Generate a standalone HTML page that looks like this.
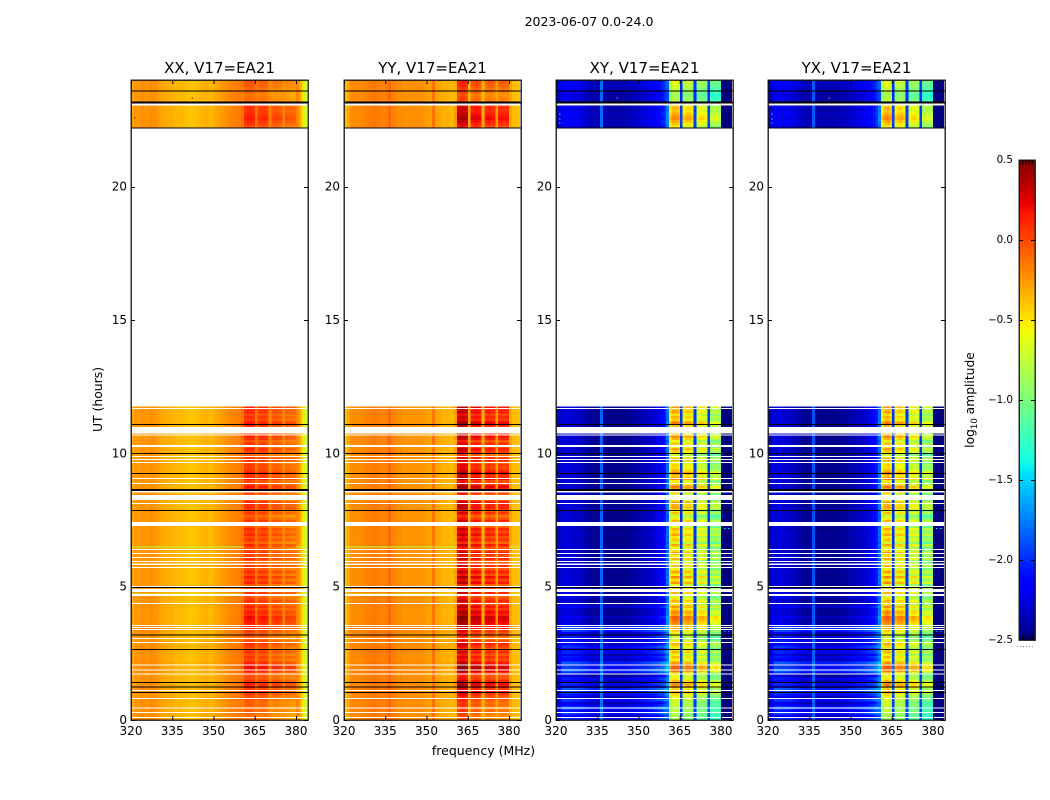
<!DOCTYPE html>
<html>
<head>
<meta charset="utf-8">
<title>2023-06-07 0.0-24.0</title>
<style>
html,body{margin:0;padding:0;background:#fff;}
#chart{display:block;width:1050px;height:800px;}
text{font-family:"DejaVu Sans","Liberation Sans",sans-serif;fill:#000;}
</style>
</head>
<body>
<svg id="chart" xmlns="http://www.w3.org/2000/svg" width="1050" height="800" viewBox="0 0 1050 800">
<text x="589" y="26" font-size="12.5" text-anchor="middle">2023-06-07 0.0-24.0</text>
<text x="483.500" y="755" font-size="12.5" text-anchor="middle">frequency (MHz)</text>
<text transform="translate(102,399.500) rotate(-90)" font-size="12.4" text-anchor="middle">UT (hours)</text>
<text transform="translate(974,400) rotate(-90)" font-size="12.3" text-anchor="middle">log<tspan font-size="8.500" dy="3">10</tspan><tspan dy="-3"> amplitude</tspan></text>
</svg>
<script>
/* ---------- chart data ---------- */
const panelTitles = ["XX, V17=EA21", "YY, V17=EA21", "XY, V17=EA21", "YX, V17=EA21"];
const xTicks = [320, 335, 350, 365, 380];
const yTicks = [0, 5, 10, 15, 20];
const cbarTicks = [0.5, 0, -0.5, -1, -1.5, -2, -2.5];
const cbarMinor = [0.2, 0.4, 0.6, 0.8];

/* log10 amplitude per 1 MHz channel, 320..383 MHz */
const profileXX = [-.30,-.26,-.26,-.24,-.24,-.26,-.24,-.22,-.24,-.26,
  -.30,-.30,-.32,-.33,-.33,-.34,-.36,-.36,-.36,-.38,
  -.39,-.40,-.40,-.38,-.38,-.36,-.34,-.34,-.36,-.36,
  -.32,-.30,-.28,-.26,-.24,-.22,-.20,-.20,-.18,-.16,
  -.14,.02,.04,.04,.02,-.14,-.02,.0,.0,-.02,
  -.20,-.10,-.08,-.08,-.10,-.22,-.12,-.14,-.14,-.16,
  -.20,-.30,-.50,-.72];
const profileYY = [-.38,-.30,-.24,-.22,-.22,-.22,-.22,-.20,-.18,-.18,
  -.16,-.16,-.18,-.20,-.20,-.18,-.10,-.20,-.20,-.22,
  -.22,-.24,-.24,-.24,-.24,-.24,-.24,-.24,-.24,-.26,
  -.28,-.28,-.14,-.30,-.30,-.32,-.34,-.34,-.36,-.36,
  -.30,.20,.24,.24,.20,-.34,.08,.10,.10,.06,
  -.34,.02,.06,.04,.02,-.26,.02,.04,.02,.02,
  -.30,-.36,-.38,-.38];
const profileXY = [-2.36,-2.32,-2.3,-2.3,-2.3,-2.32,-2.33,-2.33,-2.35,-2.38,
  -2.4,-2.44,-2.47,-2.48,-2.48,-2.48,-1.85,-2.48,-2.5,-2.5,
  -2.5,-2.5,-2.5,-2.5,-2.5,-2.5,-2.48,-2.46,-2.45,-2.43,
  -2.42,-2.4,-2.38,-2.36,-2.34,-2.32,-2.28,-2.24,-2.2,-2.1,
  -1.85,-.62,-.46,-.44,-.50,-2.0,-.64,-.56,-.56,-.64,
  -2.0,-.78,-.70,-.70,-.78,-2.0,-.94,-.88,-.88,-.98,
  -2.5,-2.5,-2.5,-2.5];
const profileYX = [-2.36,-2.32,-2.3,-2.3,-2.3,-2.32,-2.33,-2.33,-2.35,-2.38,
  -2.4,-2.44,-2.47,-2.48,-2.48,-2.48,-1.9,-2.48,-2.5,-2.5,
  -2.5,-2.5,-2.5,-2.5,-2.5,-2.5,-2.48,-2.46,-2.45,-2.43,
  -2.42,-2.4,-2.38,-2.36,-2.34,-2.32,-2.28,-2.24,-2.2,-2.1,
  -1.85,-.62,-.46,-.44,-.50,-2.0,-.64,-.56,-.56,-.64,
  -2.0,-.78,-.70,-.70,-.78,-2.0,-.94,-.88,-.88,-.98,
  -2.5,-2.5,-2.5,-2.5];
/* how strongly each channel follows the RFI-band row variation */
const bandWeight = [0,0,0,0,0,0,0,0,0,0, 0,0,0,0,0,0,0,0,0,0,
  0,0,0,0,0,0,0,0,0,0, 0,0,0,0,0,0,0,0,0,0,
  .3,1,1,1,1,.15,1,1,1,1, .15,1,1,1,1,.15,1,1,1,1, 0,0,0,0];
/* how strongly each channel follows the background row variation */
const backgroundWeight = [.5,.5,1,1,1,1,1,1,1,1, 1,1,1,1,1,1,.3,1,1,1,
  1,1,1,1,1,1,1,1,1,1, 1,1,1,1,1,1,1,1,1,1,
  .5,0,0,0,0,.3,0,0,0,0, .3,0,0,0,0,.3,0,0,0,0, 0,0,0,0];
const bandScale = [1.0, 1.5, 2.4, 2.4];
const backgroundScale = [0.04, 0.04, 0.5, 0.5];

/* row-by-row (0.1 h) variation in the RFI band, UT 0.0-11.7 */
const rowBandLow = [-.12,-.10,-.08,-.06,-.10,-.04,-.06,-.02,.0,.04,
  .12,.06,.14,.16,.10,.02,.0,.08,.18,.22,
  .20,.14,.02,.08,.0,.10,-.02,.04,.10,.02,
  -.05,-.04,.02,.06,.10,.14,.16,.20,.22,.12,
  .16,.06,.14,.02,.10,.04,-.02,.10,.02,.06,
  -.02,.14,.04,.16,.02,.12,.0,.10,.06,-.02,
  .10,.02,.14,.04,.0,.12,-.04,.08,.02,.12,
  .04,.10,-.02,.06,.10,.02,-.06,.08,.0,.12,
  .10,.14,.02,.02,-.02,.10,.14,.18,.06,.02,
  .16,.08,.18,.10,.04,.06,-.02,.12,.04,-.04,
  .06,.12,.02,.08,.0,.10,.16,.06,-.02,.04,
  .12,.18,.06,.10,.04,.12,.08,.14];
/* same, UT 22.2-23.9 */
const rowBandHigh = [.02,.08,.12,.16,.14,.10,.08,.10,.04,-.04,-.08,-.10,-.12,-.08,-.06,-.04,-.02,.0];

/* row-by-row brightening of the cross-hand background, UT 0.0-11.7 */
const rowBgLow = [.6,.3,.8,.5,.9,.4,.2,.7,.3,.5,
  .8,.9,.3,.6,.3,.5,.1,.7,.9,.8,
  .6,.9,.3,.5,.2,.6,.4,.7,.3,.5,
  .2,.6,.3,.8,.9,.3,.15,.1,.3,.1,
  .08,.1,.35,.1,.05,.08,.3,.1,.05,.1,
  .08,.05,.1,.08,.05,.1,.05,.08,.1,.05,
  .08,.1,.06,.05,.1,.08,.05,.06,.08,.1,
  .05,.06,.08,.05,.1,.06,.08,.05,.06,.1,
  .08,.05,.06,.08,.1,.05,.08,.06,.05,.1,
  .06,.08,.05,.06,.1,.08,.05,.06,.08,.05,
  .1,.06,.05,.08,.06,.1,.05,.08,.06,.05,
  .08,.1,.05,.06,.08,.05,.1,.06];
const rowBgHigh = [.2,.25,.3,.2,.25,.3,.2,.25,.15,.1,.15,.2,.15,.2,.25,.3,.3,.25];

/* observing-time coverage and flagged intervals, UT hours */
const dataSpans = [[0, 11.8], [22.2, 24]];
const gapIntervals = [[.075,.113],[.263,.3],[.431,.469],[.79,.83],[1.09,1.13],[1.706,1.744],[1.86,1.89],[2.04,2.08],
  [2.89,2.93],[3.04,3.08],[3.38,3.41],[3.45,3.49],[3.53,3.56],[4.35,4.39],[4.65,4.73],[4.8,4.91],[4.995,5.03],
  [5.7,5.74],[5.81,5.87],[5.93,5.96],[6.08,6.11],[6.23,6.26],[6.38,6.41],[7.28,7.43],[8.1,8.14],[8.25,8.44],
  [8.53,8.59],[8.85,8.89],[9.04,9.08],[9.64,9.68],[9.75,9.79],[9.86,9.9],[10.24,10.31],[10.67,10.71],[10.74,10.99],
  [11.66,11.7],[11.77,11.8],[23.04,23.11]];
const zeroRows = [1.04,1.23,1.41,2.65,3.18,4.97,7.86,9.25,10.0,11.08,22.2,23.58];
const zeroRowsThick = [8.62,23.15];
const dimRows = [4.75,6.5];

/* isolated samples: panel index, frequency MHz, UT, log10 amplitude */
const specks = [[0,342,23.34,.4],[0,321,22.6,.4],[2,342,23.34,-.2],[3,342,23.34,-.2],
  [2,321,22.75,-1.4],[2,321,22.55,-1.4],[2,321,22.4,-1.5],[3,321,22.75,-1.4],[3,321,22.55,-1.4],[3,321,22.4,-1.5],
  [2,381,7.2,-1.4],[2,382.5,7.2,-1.4],[3,381,7.2,-1.4],[3,382.5,7.2,-1.4],
  [2,381,3.33,-1.7],[2,382.5,3.33,-1.7],[3,381,3.33,-1.7],[3,382.5,3.33,-1.7]];

/* ---------- layout and scales ---------- */
const NS = "http://www.w3.org/2000/svg";
const svg = document.getElementById("chart");
const panelLefts = [131, 344, 556, 768];
const panelWidth = 177, plotTop = 80, plotBottom = 720;
const profiles = [profileXX, profileYY, profileXY, profileYX];
const freqMin = 320, pxPerMHz = 2.75, utMax = 24;
function xScale(i, f){ return panelLefts[i] + (f - freqMin) * pxPerMHz; }
function yScale(t){ return plotBottom - t / utMax * (plotBottom - plotTop); }
function cbarY(v){ return 160 + (0.5 - v) * 160; }

const jetR = [[0,0],[.35,0],[.66,1],[.89,1],[1,.5]];
const jetG = [[0,0],[.125,0],[.375,1],[.64,1],[.91,0],[1,0]];
const jetB = [[0,.5],[.11,1],[.34,1],[.65,0],[1,0]];
function pw(tab, n){
  for (let i = 1; i < tab.length; i++) {
    if (n <= tab[i][0]) {
      const a = tab[i-1], b = tab[i];
      return a[1] + (b[1] - a[1]) * (n - a[0]) / (b[0] - a[0]);
    }
  }
  return tab[tab.length-1][1];
}
function jet(v){
  const n = Math.max(0, Math.min(1, (v + 2.5) / 3));
  return "rgb(" + Math.round(255*pw(jetR,n)) + "," + Math.round(255*pw(jetG,n)) + "," + Math.round(255*pw(jetB,n)) + ")";
}
function make(tag, attrs, parent){
  const el = document.createElementNS(NS, tag);
  for (const k in attrs) el.setAttribute(k, attrs[k]);
  parent.appendChild(el);
  return el;
}
function fmtTick(v){
  const s = Math.abs(v).toFixed(1);
  return (v < 0 ? "\u2212" : "") + s;
}

/* ---------- panels ---------- */
panelTitles.forEach(function(title, p){
  const g = make("g", {}, svg);
  
  
  const heat = make("g", {"shape-rendering": "crispEdges"}, g);
  
  
  const prof = profiles[p];

  dataSpans.forEach(function(span, s){
    const band = s === 0 ? rowBandLow : rowBandHigh;
    const bg = s === 0 ? rowBgLow : rowBgHigh;
    band.forEach(function(rb, r){
      const t0 = span[0] + r * 0.1;
      const yTop = yScale(t0 + 0.1), yBot = yScale(t0);
      prof.forEach(function(base, c){
        const w = bandWeight[c];
        const v = base + bandScale[p] * (rb - 0.05) * w + backgroundScale[p] * bg[r] * backgroundWeight[c];
        const cell = make("rect", {x: xScale(p, freqMin + c), y: yTop, width: pxPerMHz, height: yBot - yTop, fill: jet(v)}, heat);
        
        
      });
    });
  });

  specks.forEach(function(sp){
    if (sp[0] !== p) return;
    const dot = make("rect", {x: xScale(p, sp[1]), y: yScale(sp[2]), width: 1.5, height: 1, fill: jet(sp[3])}, heat);
    
    
  });

  if (p < 2) {
    dimRows.forEach(function(t){
      [[freqMin, 361], [380, 384]].forEach(function(rng){
        const dim = make("rect", {x: xScale(p, rng[0]), y: yScale(t), width: (rng[1] - rng[0]) * pxPerMHz, height: 1, fill: jet(-0.75)}, heat);
        
        
      });
    });
  }

  gapIntervals.forEach(function(gap){
    const yTop = yScale(gap[1]);
    const rect = make("rect", {x: panelLefts[p], y: yTop, width: panelWidth, height: Math.max(1, yScale(gap[0]) - yTop), fill: "#fff"}, heat);
    
    
  });
  zeroRows.forEach(function(t){
    const rect = make("rect", {x: panelLefts[p], y: yScale(t) - 0.5, width: panelWidth, height: 1, fill: "#000"}, heat);
    
    
  });
  zeroRowsThick.forEach(function(t){
    const rect = make("rect", {x: panelLefts[p], y: yScale(t) - 1, width: panelWidth, height: 2, fill: "#000"}, heat);
    
    
  });

  const frame = make("rect", {x: panelLefts[p] + 0.2, y: plotTop + 0.2, width: panelWidth, height: plotBottom - plotTop, fill: "none", stroke: "#111", "stroke-width": 1.3}, g);
  
  

  const ttl = make("text", {x: panelLefts[p] + panelWidth / 2, y: 73, "font-size": 15, "text-anchor": "middle"}, g);
  ttl.textContent = title;
  
  

  xTicks.forEach(function(f){
    const x = xScale(p, f) + 0.5;
    [[plotBottom, plotBottom - 4], [plotTop, plotTop + 4]].forEach(function(e){
      const tk = make("line", {x1: x, x2: x, y1: e[0], y2: e[1], stroke: "#000", "stroke-width": 1}, g);
      
      
    });
    const lb = make("text", {x: x - 0.5, y: 735, "font-size": 12, "text-anchor": "middle"}, g);
    lb.textContent = f;
    
    
  });
  yTicks.forEach(function(t){
    const y = Math.round(yScale(t)) + 0.5;
    [[panelLefts[p], panelLefts[p] + 4], [panelLefts[p] + panelWidth, panelLefts[p] + panelWidth - 4]].forEach(function(e){
      const tk = make("line", {x1: e[0], x2: e[1], y1: y, y2: y, stroke: "#000", "stroke-width": 1}, g);
      
      
    });
    const lb = make("text", {x: panelLefts[p] - 4, y: yScale(t) + 4, "font-size": 12, "text-anchor": "end"}, g);
    lb.textContent = t;
    
    
  });
});

/* ---------- colorbar ---------- */
const cbar = make("g", {}, svg);


const cbarLeft = 1019, cbarWidth = 16, cbarSteps = 240;
const cbarFill = make("g", {"shape-rendering": "crispEdges"}, cbar);
for (let i = 0; i < cbarSteps; i++) {
  const v = 0.5 - (i + 0.5) * 3 / cbarSteps;
  const st = make("rect", {x: cbarLeft, y: cbarY(0.5 - i * 3 / cbarSteps), width: cbarWidth, height: 2.2, fill: jet(v)}, cbarFill);
  
  
}
const cbFrame = make("rect", {x: cbarLeft + 0.2, y: 160.2, width: cbarWidth, height: 480, fill: "none", stroke: "#111", "stroke-width": 1.3}, cbar);


cbarTicks.forEach(function(v){
  const y = Math.round(cbarY(v)) + 0.5;
  if (v < 0.5 && v > -2.5) {
    [[cbarLeft, cbarLeft + 4], [cbarLeft + cbarWidth, cbarLeft + cbarWidth - 4]].forEach(function(e){
      const tk = make("line", {x1: e[0], x2: e[1], y1: y, y2: y, stroke: "#000", "stroke-width": 1}, cbar);
      
      
    });
  }
  const lb = make("text", {x: 1013, y: cbarY(v) + 3, "font-size": 10.3, "text-anchor": "end"}, cbar);
  lb.textContent = fmtTick(v);
  
  
});
cbarMinor.forEach(function(fr){
  const x = cbarLeft + fr * cbarWidth + 0.5;
  [[160, 165], [640, 635]].forEach(function(e){
    const tk = make("line", {x1: x, x2: x, y1: e[0], y2: e[1], stroke: "#000", "stroke-width": 1}, cbar);
    
    
  });
});
const cbDots = make("line", {x1: 1017, x2: 1035, y1: 646.5, y2: 646.5, stroke: "#888", "stroke-width": 1, "stroke-dasharray": "1 2"}, cbar);


</script>
</body>
</html>
